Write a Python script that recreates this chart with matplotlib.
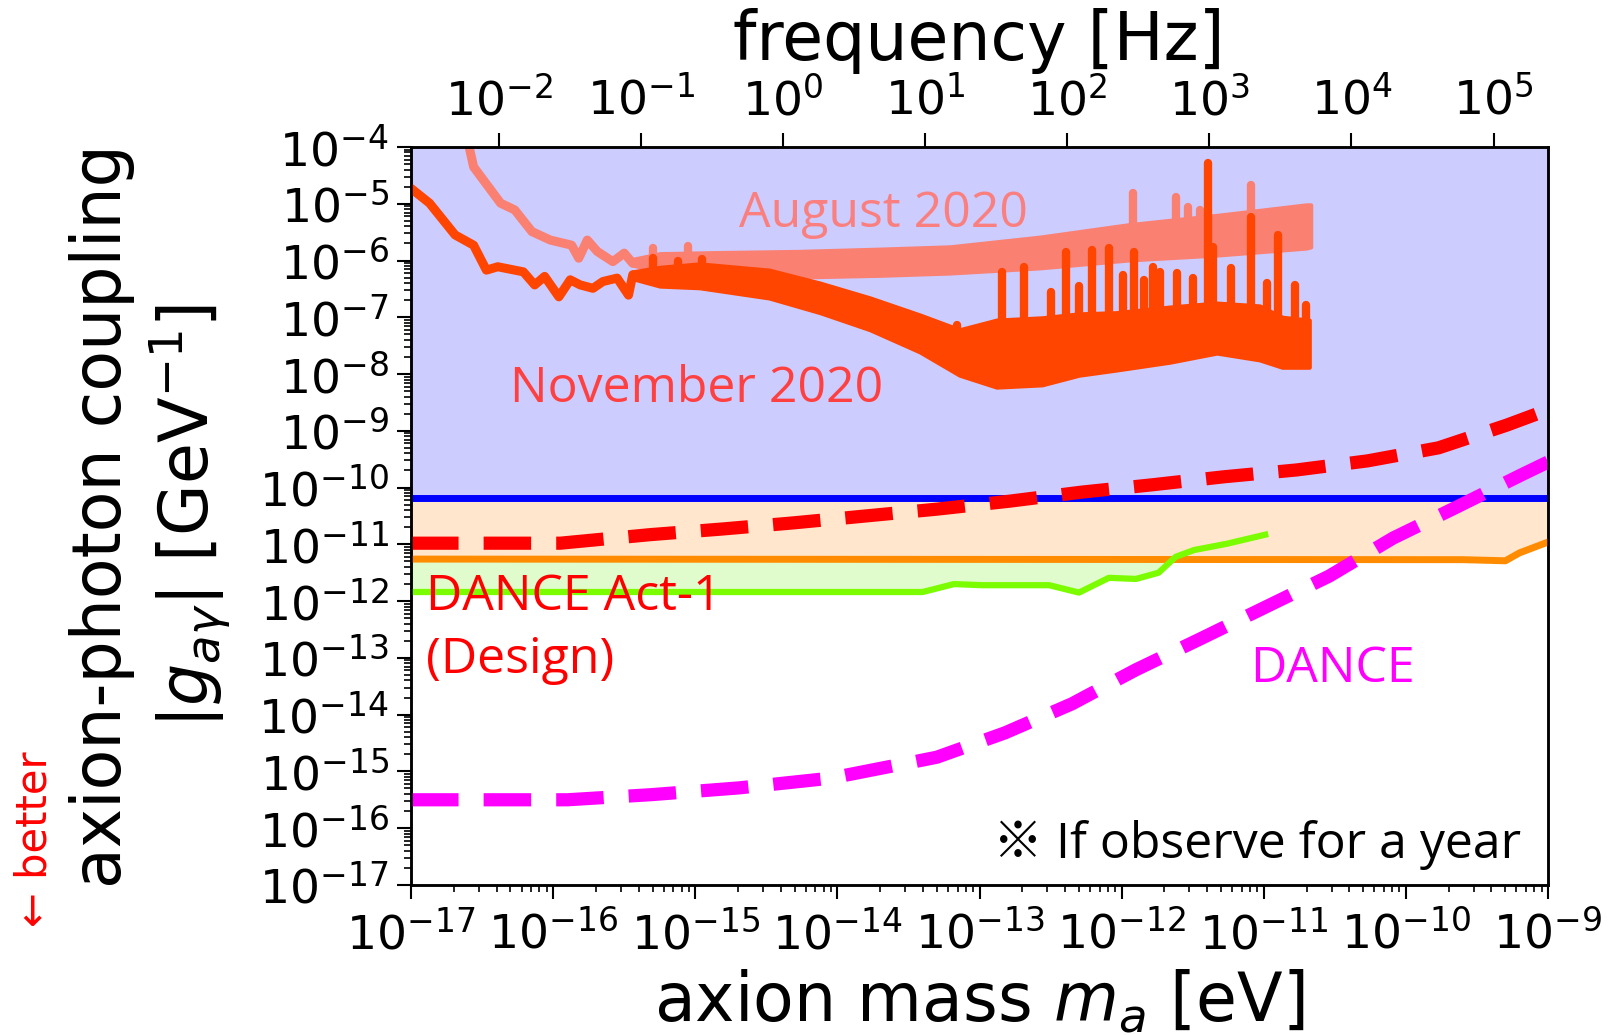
import matplotlib
matplotlib.use("Agg")
import matplotlib.pyplot as plt
import numpy as np
from matplotlib.ticker import LogLocator, NullFormatter, NullLocator

# values, as log10(mass / eV) and log10(g / GeV^-1)
EV_TO_HZ = 2.418e14
CAST_LIMIT = 6.6e-11
MASS_RANGE = (1e-17, 1e-9)
G_RANGE = (1e-17, 1e-4)

orange_mass_log = [-17.0, -9.6, -9.3, -9.2, -9.0]
orange_g_log = [-11.26, -11.27, -11.29, -11.15, -10.96]

green_mass_log = [-17.0, -13.58, -13.40, -13.18, -12.98, -12.51, -12.30, -12.09,
                  -11.90, -11.74, -11.62, -11.49, -11.26, -10.99]
green_g_log = [-11.84, -11.84, -11.84, -11.70, -11.72, -11.72, -11.85, -11.59,
               -11.61, -11.50, -11.22, -11.10, -10.99, -10.83]

act1_mass_log = [-17.0, -15.95, -15.32, -14.81, -14.30, -13.80, -13.30, -12.79,
                 -12.28, -11.78, -11.28, -10.77, -10.27, -9.77, -9.29, -9.0]
act1_g_log = [-10.98, -10.98, -10.83, -10.73, -10.62, -10.50, -10.38, -10.24,
              -10.08, -9.95, -9.81, -9.69, -9.53, -9.30, -8.90, -8.63]

dance_mass_log = [-17.0, -15.90, -15.31, -14.69, -14.05, -13.46, -13.30, -12.82,
                  -12.35, -11.90, -11.45, -11.00, -10.54, -10.09, -9.64, -9.19, -9.0]
dance_g_log = [-15.50, -15.50, -15.41, -15.29, -15.12, -14.83, -14.75, -14.32,
               -13.81, -13.21, -12.67, -12.12, -11.56, -10.89, -10.34, -9.78, -9.55]

# August 2020: low-frequency trace, then a noisy band (envelope) with spikes
aug_mass_log = [-16.60, -16.56, -16.37, -16.27, -16.15, -16.02, -15.87, -15.82,
                -15.76, -15.69, -15.58, -15.50, -15.44]
aug_g_log = [-3.90, -4.35, -4.99, -5.11, -5.49, -5.64, -5.73, -5.96,
             -5.64, -5.84, -6.02, -5.87, -6.05]
aug_band_mass_log = [-15.44, -15.25, -14.83, -14.27, -13.70, -13.21, -12.58, -11.95,
                     -11.31, -10.70, -10.67]
aug_band_hi_log = [-5.98, -5.88, -5.86, -5.84, -5.80, -5.76, -5.59, -5.37, -5.20,
                   -5.02, -5.02]
aug_band_lo_log = [-6.08, -6.20, -6.26, -6.29, -6.26, -6.22, -6.13, -5.99, -5.90,
                   -5.78, -5.76]
aug_spike_mass_log = [-15.30, -15.05, -11.92, -11.62, -11.53, -11.45, -11.09]
aug_spike_top_log = [-5.78, -5.75, -4.81, -4.88, -5.06, -5.11, -4.67]

# November 2020
nov_mass_log = [-17.0, -16.87, -16.69, -16.56, -16.47, -16.39, -16.21, -16.13,
                -16.06, -15.96, -15.88, -15.81, -15.72, -15.65, -15.55, -15.47, -15.44]
nov_g_log = [-4.73, -4.99, -5.55, -5.73, -6.17, -6.11, -6.20, -6.43,
             -6.28, -6.64, -6.34, -6.43, -6.49, -6.37, -6.31, -6.61, -6.25]
nov_band_mass_log = [-15.44, -15.25, -14.97, -14.48, -14.12, -13.77, -13.42, -13.14,
                     -12.88, -12.56, -12.30, -12.04, -11.66, -11.33, -11.03, -10.87, -10.68]
nov_band_hi_log = [-6.20, -6.12, -6.06, -6.17, -6.40, -6.66, -6.96, -7.22,
                   -7.05, -7.01, -6.94, -6.92, -6.82, -6.75, -6.80, -7.00, -7.05]
nov_band_lo_log = [-6.32, -6.45, -6.48, -6.66, -6.92, -7.22, -7.61, -8.02,
                   -8.23, -8.19, -8.02, -7.93, -7.79, -7.63, -7.75, -7.88, -7.88]
nov_spike_mass_log = [-15.30, -15.12, -14.95, -13.16, -12.99, -12.84, -12.69, -12.50,
                      -12.39, -12.30, -12.21, -12.09, -11.99, -11.91, -11.84, -11.78,
                      -11.73, -11.61, -11.50, -11.39, -11.36, -11.23, -11.09, -10.98,
                      -10.90, -10.78, -10.70]
nov_spike_top_log = [-5.95, -6.00, -5.98, -7.14, -7.22, -6.20, -6.11, -6.55,
                     -5.85, -6.45, -5.81, -5.78, -6.25, -5.85, -6.35, -6.11,
                     -6.20, -6.22, -6.30, -4.28, -5.76, -6.13, -5.23, -6.40,
                     -5.55, -6.43, -6.78]


def p(v):
    return 10.0 ** np.asarray(v, dtype=float)


def draw_band(ax, mass_log, hi_log, lo_log, spike_mass, spike_top, color, z):
    ax.fill_between(p(mass_log), p(lo_log), p(hi_log), facecolor=color,
                    edgecolor=color, lw=3, zorder=z)
    base = np.interp(spike_mass, mass_log, hi_log) - 0.1
    sp = ax.vlines(p(spike_mass), p(base), p(spike_top), color=color, lw=6, zorder=z)
    sp.set_capstyle("round")


fig = plt.figure(figsize=(16.12, 10.35), dpi=100)
ax = fig.add_axes([0.255, 0.145, 0.7053, 0.713])
ax.set_xscale("log")
ax.set_yscale("log")
ax.set_xlim(*MASS_RANGE)
ax.set_ylim(*G_RANGE)

# excluded / sensitivity regions
ax.fill_between(MASS_RANGE, CAST_LIMIT, G_RANGE[1], color="#ccccff", lw=0, zorder=0)
ax.fill_between(p(orange_mass_log), p(orange_g_log), CAST_LIMIT, color="#ffe6cc", lw=0, zorder=0)
og = np.interp(green_mass_log, orange_mass_log, orange_g_log)
gg = np.asarray(green_g_log)
ax.fill_between(p(green_mass_log), p(gg), p(og), where=gg < og, interpolate=True,
                color="#e0fccc", lw=0, zorder=0)

# measured curves
ax.plot(p(aug_mass_log), p(aug_g_log), color="salmon", lw=6.5,
        solid_joinstyle="round", solid_capstyle="round", zorder=2)
draw_band(ax, aug_band_mass_log, aug_band_hi_log, aug_band_lo_log,
          aug_spike_mass_log, aug_spike_top_log, "salmon", 2)
ax.plot(p(nov_mass_log), p(nov_g_log), color="orangered", lw=6.5,
        solid_joinstyle="round", solid_capstyle="round", zorder=3)
draw_band(ax, nov_band_mass_log, nov_band_hi_log, nov_band_lo_log,
          nov_spike_mass_log, nov_spike_top_log, "orangered", 3)

ax.axhline(CAST_LIMIT, color="blue", lw=5, zorder=4)
ax.plot(p(orange_mass_log), p(orange_g_log), color="darkorange", lw=5, zorder=4)
ax.plot(p(green_mass_log), p(green_g_log), color="lawngreen", lw=4.5, zorder=4)
ax.plot(p(act1_mass_log), p(act1_g_log), color="red", lw=9.5, ls=(0, (3.6, 1.9)), zorder=5)
ax.plot(p(dance_mass_log), p(dance_g_log), color="magenta", lw=9.5, ls=(0, (3.6, 1.9)), zorder=5)

# ticks
for axis in (ax.xaxis, ax.yaxis):
    axis.set_major_locator(LogLocator(base=10, numticks=30))
    axis.set_minor_locator(LogLocator(base=10, subs=np.arange(2, 10), numticks=300))
    axis.set_minor_formatter(NullFormatter())
ax.tick_params(which="major", direction="out", length=10, width=1.5, labelsize=34, pad=6,
               top=False, right=False)
ax.tick_params(axis="x", which="major", pad=9)
ax.tick_params(which="minor", direction="out", length=5, width=1.2, top=False, right=False)

ax2 = ax.twiny()
ax2.set_xscale("log")
ax2.set_xlim(MASS_RANGE[0] * EV_TO_HZ, MASS_RANGE[1] * EV_TO_HZ)
ax2.xaxis.set_major_locator(LogLocator(base=10, numticks=30))
ax2.xaxis.set_minor_locator(NullLocator())
ax2.tick_params(which="major", direction="out", length=10, width=1.5, labelsize=34, pad=6)

for a in (ax, ax2):
    for s in a.spines.values():
        s.set_linewidth(1.8)

# axis labels
fig.text(979 / 1612, 1 - 1002 / 1035, r"axion mass $m_a$ [eV]", ha="center", va="center", fontsize=48)
fig.text(979 / 1612, 1 - 41 / 1035, "frequency [Hz]", ha="center", va="center", fontsize=48)
fig.text(151 / 1612, 1 - 516 / 1035, "axion-photon coupling\n" + r"$|g_{a\gamma}|$ [GeV$^{-1}$]",
         rotation=90, ha="center", va="center", fontsize=48, multialignment="center")
fig.text(35 / 1612, 1 - 839 / 1035, "← better", rotation=90, ha="center", va="center",
         fontsize=30, color="red")

# annotations
fam = ["Open Sans", "Noto Sans CJK JP", "DejaVu Sans"]
ax.text(0.2885, 0.8916, "August 2020", transform=ax.transAxes, fontsize=36, family=fam,
        color="#fa8080", va="baseline", zorder=6)
ax.text(0.0871, 0.6545, "November 2020", transform=ax.transAxes, fontsize=36, family=fam,
        color="#ff4040", va="baseline", zorder=6)
ax.text(0.013, 0.3726, "DANCE Act-1", transform=ax.transAxes, fontsize=36, family=fam,
        color="red", va="baseline", zorder=6)
ax.text(0.013, 0.287, "(Design)", transform=ax.transAxes, fontsize=36, family=fam,
        color="red", va="baseline", zorder=6)
ax.text(0.738, 0.275, "DANCE", transform=ax.transAxes, fontsize=36, family=fam,
        color="magenta", va="baseline", zorder=6)
ax.text(0.512, 0.0366, "※ If observe for a year", transform=ax.transAxes, fontsize=36,
        family=fam, color="black", va="baseline", zorder=6)

fig.savefig("out.png", dpi=100)
